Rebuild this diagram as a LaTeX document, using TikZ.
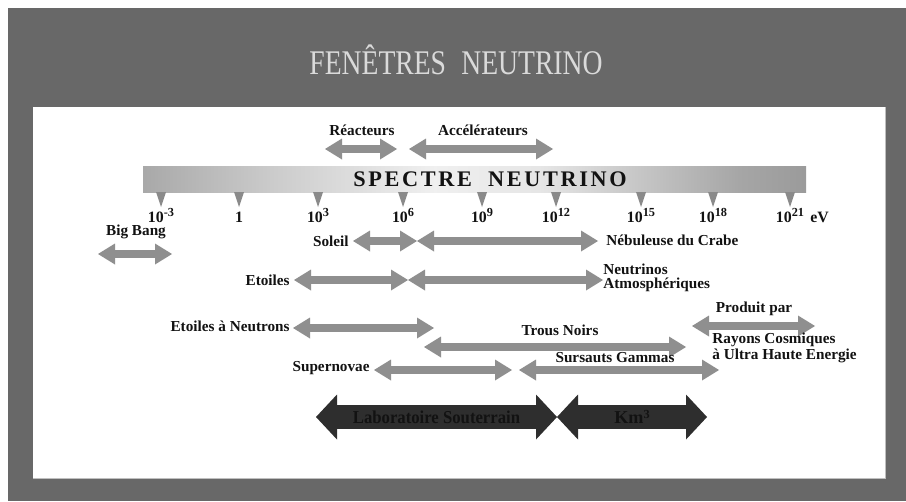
\documentclass[tikz,border=0pt]{standalone}
\usepackage{fontspec}
\setmainfont{Liberation Serif}
\usetikzlibrary{arrows.meta}
\definecolor{fond}{RGB}{104,104,104}
\definecolor{titre}{RGB}{218,218,218}
\definecolor{flgris}{RGB}{143,143,143}
\definecolor{flnoir}{RGB}{46,46,46}
\definecolor{encre}{RGB}{18,18,18}
\definecolor{cran}{RGB}{138,138,138}
\pgfdeclarehorizontalshading{spectre}{100bp}{color(0bp)=(black!52); color(12bp)=(black!52);
  color(35bp)=(black!20); color(47bp)=(black!6); color(55bp)=(black!10);
  color(70bp)=(black!35); color(85bp)=(black!48); color(100bp)=(black!45)}
\newcommand\puiss[1]{\raisebox{0.32em}{\fontsize{10.5}{11}\selectfont #1}}

\begin{document}
\begin{tikzpicture}[x=0.03cm, y=-0.03cm,
  etiq/.style={font=\fontsize{13}{14}\selectfont\bfseries, text=encre, inner sep=1pt},
  graduation/.style={font=\fontsize{13.5}{14}\selectfont\bfseries, text=encre, inner sep=1pt},
  flgr/.style={flgris, line width=0.24cm,
    {Triangle[length=0.51cm, width=0.63cm, line width=0pt]}-{Triangle[length=0.51cm, width=0.63cm, line width=0pt]}},
  flnr/.style={flnoir, line width=0.72cm,
    {Triangle[length=0.63cm, width=1.35cm, line width=0pt]}-{Triangle[length=0.63cm, width=1.35cm, line width=0pt]}},
  dansfl/.style={font=\fontsize{15.5}{16}\selectfont\bfseries, text=encre, inner sep=1pt}]
  \useasboundingbox (0,0) rectangle (906,501);
  % fond et panneau
  \fill[white] (0,0) rectangle (906,501);
  \fill[fond] (8,8) rectangle (906,501);
  \fill[white] (33,107) rectangle (885,478);
  \draw[black!25, line width=0.6pt] (33,478) -- (885,478) -- (885,107);
  \node[text=titre, font=\fontsize{29.5}{30}\selectfont] (titre) at (456,60)
    {\scalebox{0.8}[1]{FENÊTRES\hspace{0.3em} NEUTRINO}};

  % barre du spectre
  \shade[shading=spectre] (143,166) rectangle (806,192);
  \node[font=\fontsize{19}{20}\selectfont\bfseries\addfontfeature{LetterSpace=12}, text=encre] (spectre) at (490,179.5)
    {SPECTRE\hspace{0.35em} NEUTRINO};
  \foreach \x/\lab [count=\i] in {161/10\puiss{-3}, 239/1, 318/10\puiss{3},
      403/10\puiss{6}, 482/10\puiss{9}, 556/10\puiss{12},
      641/10\puiss{15}, 713/10\puiss{18}, 790/10\puiss{21}} {
    \fill[cran] (\x-5,192) -- (\x+5,192) -- (\x,207) -- cycle;
    \node[graduation, anchor=base] (t\i) at (\x,222) {\lab};
  }
  \node[graduation, anchor=base west] (ev) at ([xshift=3pt]t9.base east) {eV};

  % sources artificielles
  \coordinate (rea-a) at (325,149); \coordinate (rea-b) at (397,149);
  \coordinate (acc-a) at (409,149); \coordinate (acc-b) at (553,149);
  \draw[flgr] (rea-a) -- (rea-b);
  \draw[flgr] (acc-a) -- (acc-b);
  \node[etiq] (reacteurs) at (362,130) {Réacteurs};
  \node[etiq] (accel) at (483,130) {Accélérateurs};

  % sources naturelles
  \coordinate (bb-a) at (98,254); \coordinate (bb-b) at (172,254);
  \draw[flgr] (bb-a) -- (bb-b);
  \node[etiq] (bigbang) at (136,232) {Big Bang};

  \coordinate (sol-a) at (353,241); \coordinate (sol-b) at (417,241);
  \coordinate (crabe-b) at (598,241);
  \draw[flgr] (sol-a) -- (sol-b);
  \draw[flgr] (sol-b) -- (crabe-b);
  \node[etiq, anchor=east] (soleil) at (350,241) {Soleil};
  \node[etiq, anchor=west] (crabe) at (605,240) {Nébuleuse du Crabe};

  \coordinate (eto-a) at (294,280); \coordinate (eto-b) at (408,280);
  \coordinate (atmo-b) at (603,280);
  \draw[flgr] (eto-a) -- (eto-b);
  \draw[flgr] (eto-b) -- (atmo-b);
  \node[etiq, anchor=east] (etoiles) at (291,280) {Etoiles};
  \node[etiq, anchor=west, align=left, font=\fontsize{13}{12.5}\selectfont\bfseries] (atmo) at (602,278)
    {Neutrinos\\Atmosphériques};

  \coordinate (etn-a) at (293,328); \coordinate (etn-b) at (434,328);
  \draw[flgr] (etn-a) -- (etn-b);
  \node[etiq, anchor=east] (etneutrons) at (291,326) {Etoiles à Neutrons};

  \coordinate (tn-a) at (424,347); \coordinate (tn-b) at (686,347);
  \draw[flgr] (tn-a) -- (tn-b);
  \node[etiq] (trous) at (560,330) {Trous Noirs};

  \coordinate (sn-a) at (374,370); \coordinate (sn-b) at (512,370);
  \coordinate (sg-a) at (519,370); \coordinate (sg-b) at (719,370);
  \draw[flgr] (sn-a) -- (sn-b);
  \draw[flgr] (sg-a) -- (sg-b);
  \node[etiq, anchor=east] (supernovae) at (371,368) {Supernovae};
  \node[etiq] (sursauts) at (615,358) {Sursauts Gammas};

  \coordinate (rc-a) at (692,326); \coordinate (rc-b) at (815,326);
  \draw[flgr] (rc-a) -- (rc-b);
  \node[etiq] (produit) at (754,309) {Produit par};
  \node[etiq, anchor=west, align=left, font=\fontsize{13}{13.6}\selectfont\bfseries] (rayons) at (711,348)
    {Rayons Cosmiques\\à Ultra Haute Energie};

  % detecteurs
  \coordinate (labo-a) at (316,417); \coordinate (labo-b) at (557,417);
  \coordinate (km-b) at (707,417);
  \draw[flnr] (labo-a) -- (labo-b) node[dansfl, midway] (labo) {\scalebox{0.92}[1]{Laboratoire Souterrain}};
  \draw[flnr] (labo-b) -- (km-b) node[dansfl, midway] (km) {Km\puiss{3}};
\end{tikzpicture}
\end{document}
